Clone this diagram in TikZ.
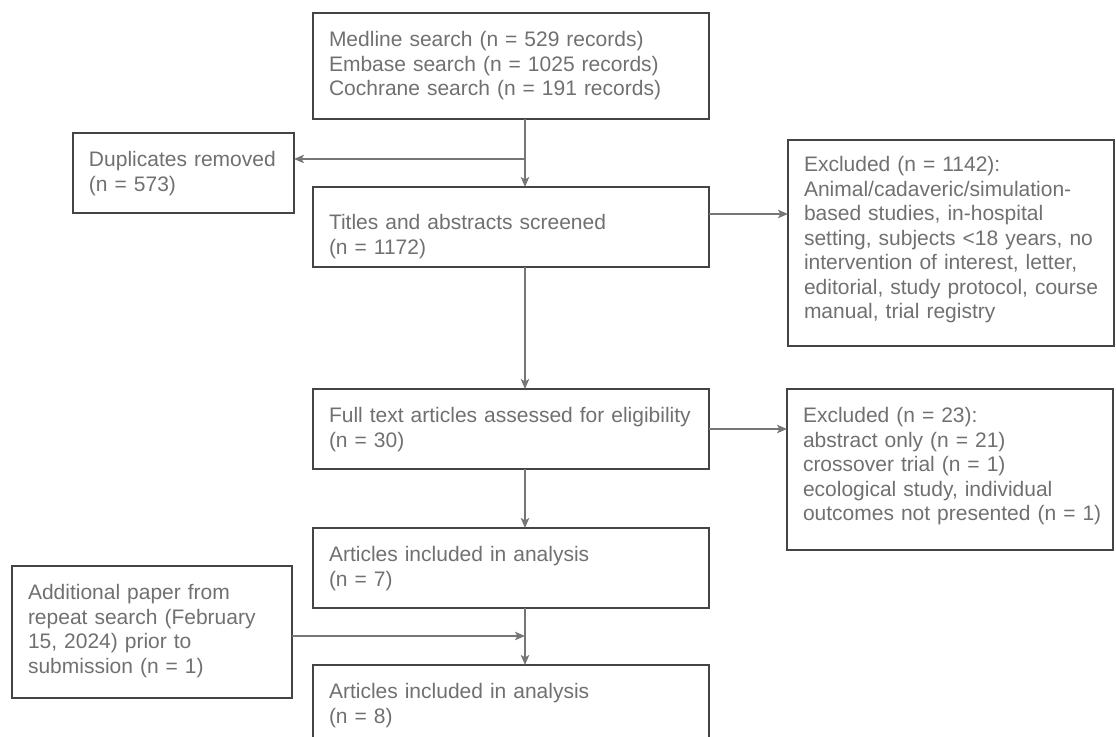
\documentclass[tikz,border=0pt]{standalone}
\usepackage{fontspec}
\setmainfont{Liberation Sans}
\usetikzlibrary{arrows.meta}
\definecolor{txtgray}{RGB}{112,112,114}
\definecolor{boxgray}{RGB}{68,68,68}
\definecolor{arrgray}{RGB}{118,118,120}
\tikzset{
      flowbox/.style={
        draw=boxgray,
        line width=0.9pt,
        text=txtgray,
        font=\fontsize{10.5}{12.25}\selectfont,
        align=left,
        anchor=north west,
        inner xsep=8pt,
        inner ysep=0pt,
        outer sep=0pt,
        text height=17pt
      },
      flowarrow/.style={
        -{Stealth[length=5pt,width=4.2pt,inset=1.2pt]},
        line width=0.7pt,
        color=arrgray
      }
    }

\begin{document}
\begin{tikzpicture}[x=0.5pt,y=-0.5pt]
    \path[use as bounding box, clip] (0,0) rectangle (1116,737);
    \node[flowbox, text width=182pt, text depth=36pt] (search) at (313,13) {Medline search (n = 529 records)\\Embase search (n = 1025 records)\\Cochrane search (n = 191 records)};
    \node[flowbox, text width=94.5pt, text depth=23pt] (dup) at (73,133) {Duplicates removed\\(n = 573)};
    \node[flowbox, text width=182pt, text height=21.5pt, text depth=18.5pt] (titles) at (313,187) {Titles and abstracts screened\\(n = 1172)};
    \node[flowbox, text width=147pt, text height=16pt, text depth=87pt] (excl1) at (788,140) {Excluded (n = 1142):\\\mbox{Animal/cadaveric/simulation-}\\\mbox{based studies, in-hospital}\\\mbox{setting, subjects <18 years, no}\\\mbox{intervention of interest, letter,}\\\mbox{editorial, study protocol, course}\\manual, trial registry};
    \node[flowbox, text width=182pt, text depth=23pt] (full) at (313,389) {Full text articles assessed for eligibility\\(n = 30)};
    \node[flowbox, text width=147pt, text depth=63.5pt] (excl2) at (787,389) {Excluded (n = 23):\\abstract only (n = 21)\\crossover trial (n = 1)\\\mbox{ecological study, individual}\\\mbox{outcomes not presented (n = 1)}};
    \node[flowbox, text width=182pt, text depth=23pt] (art7) at (313,528) {Articles included in analysis\\(n = 7)};
    \node[flowbox, text width=124pt, text depth=49pt] (add) at (12,566) {Additional paper from\\repeat search (February\\15, 2024) prior to\\submission (n = 1)};
    \node[flowbox, text width=182pt, text depth=23pt] (art8) at (313,665) {Articles included in analysis\\(n = 8)};
    % spine of the flow and branch points
    \coordinate (spine) at (525,0);
    \coordinate (br1) at (525,159);
    \coordinate (br2) at (709,214);
    \coordinate (br3) at (292,636);
    \draw[flowarrow] (search.south -| spine) -- (titles.north -| spine);
    \draw[flowarrow] (br1) -- (br1 -| dup.east);
    \draw[flowarrow] (br2) -- (br2 -| excl1.west);
    \draw[flowarrow] (titles.south -| spine) -- (full.north -| spine);
    \draw[flowarrow] (full.east) -- (full.east -| excl2.west);
    \draw[flowarrow] (full.south -| spine) -- (art7.north -| spine);
    \draw[flowarrow] (art7.south -| spine) -- (art8.north -| spine);
    \draw[flowarrow] (br3) -- (br3 -| spine);
    \end{tikzpicture}
\end{document}
